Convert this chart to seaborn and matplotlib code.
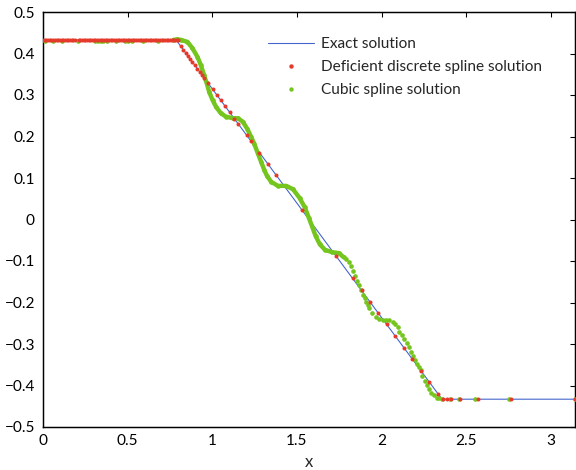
import matplotlib
matplotlib.use("Agg")
import matplotlib.pyplot as plt
import seaborn as sns
from matplotlib.lines import Line2D

# Exact solution: plateau, linear ramp, plateau
exact_x = [0.0, 0.7854, 2.3562, 3.1416]
exact_y = [0.4330, 0.4330, -0.4330, -0.4330]

# Deficient discrete spline solution: left plateau samples
red_flat_x = [0.00, 0.01, 0.02, 0.03, 0.04, 0.05, 0.06, 0.07, 0.08, 0.09,
              0.10, 0.11, 0.12, 0.13, 0.14, 0.15, 0.16, 0.17, 0.18, 0.19,
              0.21, 0.22, 0.23, 0.24, 0.25, 0.26, 0.27, 0.28, 0.29, 0.30,
              0.31, 0.32, 0.33, 0.34, 0.35, 0.36, 0.37, 0.38, 0.39, 0.40,
              0.41, 0.42, 0.43, 0.44, 0.45, 0.46, 0.47, 0.48, 0.49, 0.50,
              0.51, 0.52, 0.53, 0.54, 0.55, 0.56, 0.57, 0.58, 0.59, 0.60,
              0.61, 0.62, 0.63, 0.64, 0.65, 0.66, 0.67, 0.68, 0.69, 0.70,
              0.71, 0.72, 0.73, 0.74, 0.75, 0.76, 0.77, 0.78, 0.79, 0.80]
red_flat_y = [0.433] * 80

# Deficient discrete spline solution: ramp and right plateau samples
red_x = [0.813, 0.829, 0.843, 0.856, 0.868, 0.882, 0.896, 0.912, 0.926, 0.938,
         0.951, 0.975, 1.001, 1.027, 1.050, 1.076, 1.102, 1.129, 1.153, 1.203,
         1.228, 1.278, 1.328, 1.377, 1.529, 1.729, 1.828, 1.881, 1.931, 1.980,
         2.030, 2.079, 2.132, 2.180, 2.233, 2.282, 2.332, 2.360, 2.385, 2.410,
         2.465, 2.570, 2.766, 3.140]
red_y = [0.418, 0.409, 0.401, 0.394, 0.387, 0.380, 0.372, 0.363, 0.355, 0.349,
         0.342, 0.328, 0.314, 0.300, 0.287, 0.273, 0.258, 0.243, 0.230, 0.203,
         0.189, 0.161, 0.134, 0.107, 0.023, -0.087, -0.142, -0.171, -0.199, -0.226,
         -0.253, -0.280, -0.310, -0.336, -0.365, -0.392, -0.420, -0.433, -0.433, -0.433,
         -0.433, -0.433, -0.433, -0.433]

# Cubic spline solution: densely sampled stretch of the curve
green_band_x = [0.772, 0.793, 0.813, 0.853, 0.882, 0.912, 0.932, 0.951, 0.967, 0.981,
                1.001, 1.021, 1.050, 1.080, 1.120, 1.150, 1.179, 1.207, 1.228, 1.248,
                1.268, 1.288, 1.307, 1.323, 1.347, 1.387, 1.436, 1.476, 1.515, 1.545,
                1.571, 1.592, 1.610, 1.635, 1.665, 1.708, 1.748, 1.775]
green_band_y = [0.433, 0.434, 0.433, 0.428, 0.413, 0.392, 0.372, 0.348, 0.328, 0.308,
                0.288, 0.272, 0.256, 0.248, 0.244, 0.244, 0.236, 0.218, 0.200, 0.182,
                0.160, 0.139, 0.119, 0.105, 0.091, 0.081, 0.081, 0.073, 0.052, 0.030,
                0.003, -0.020, -0.040, -0.060, -0.073, -0.079, -0.081, -0.091]

# Cubic spline solution: isolated samples
green_dot_x = [0.012, 0.059, 0.113, 0.208, 0.309, 0.326, 0.344, 0.356, 0.380, 0.433,
               0.487, 0.504, 0.528, 0.588, 0.682,
               1.790, 1.805, 1.819, 1.832, 1.844, 1.856, 1.867, 1.879, 1.890, 1.899,
               1.908, 1.917, 1.926, 1.945, 1.965, 1.985, 2.005, 2.024, 2.044, 2.064,
               2.080, 2.096, 2.105, 2.120, 2.132, 2.148, 2.160, 2.172, 2.184, 2.195,
               2.207, 2.220, 2.230, 2.240, 2.254, 2.266, 2.280, 2.294, 2.310, 2.327,
               2.340, 2.357, 2.405, 2.455, 2.550, 2.750, 3.140]
green_dot_y = [0.431] * 15 + [
    -0.094, -0.102, -0.112, -0.123, -0.135, -0.147, -0.158, -0.170, -0.182, -0.190,
    -0.198, -0.206, -0.214, -0.226, -0.234, -0.239, -0.241, -0.242, -0.242, -0.246,
    -0.252, -0.260, -0.270, -0.278, -0.289, -0.298, -0.308, -0.319, -0.329, -0.339,
    -0.347, -0.355, -0.363, -0.376, -0.389, -0.398, -0.409, -0.417, -0.424, -0.429,
    -0.431, -0.433, -0.433, -0.433, -0.433, -0.433, -0.433]

x_ticks = [0, 0.5, 1, 1.5, 2, 2.5, 3]
x_tick_labels = ["0", "0.5", "1", "1.5", "2", "2.5", "3"]
y_ticks = [0.5, 0.4, 0.3, 0.2, 0.1, 0, -0.1, -0.2, -0.3, -0.4, -0.5]
y_tick_labels = ["0.5", "0.4", "0.3", "0.2", "0.1", "0", "\u22120.1", "\u22120.2",
                 "\u22120.3", "\u22120.4", "\u22120.5"]

sns.set_theme(style="white")
plt.rcParams["font.family"] = ["Lato", "DejaVu Sans"]

BLUE = "#3f62cc"
RED = "#e5392b"
GREEN = "#74c51d"

fig = plt.figure(figsize=(6.0, 470 / 96), dpi=96)
ax = fig.add_axes([43 / 576, 43 / 470, 532 / 576, 415 / 470])

sns.lineplot(x=exact_x, y=exact_y, ax=ax, color=BLUE, linewidth=0.8,
             estimator=None, sort=False, zorder=2)
sns.lineplot(x=green_band_x, y=green_band_y, ax=ax, color=GREEN, linewidth=3.3,
             estimator=None, sort=False, zorder=3, solid_capstyle="round")
sns.scatterplot(x=green_band_x + green_dot_x, y=green_band_y + green_dot_y, ax=ax,
                color=GREEN, s=12, linewidth=0, zorder=3)
sns.scatterplot(x=red_flat_x + red_x, y=red_flat_y + red_y, ax=ax, color=RED,
                s=9, linewidth=0, zorder=4)

ax.set_xlim(0, 3.1416)
ax.set_ylim(-0.5, 0.5)
ax.set_xticks(x_ticks)
ax.set_xticklabels(x_tick_labels)
ax.set_yticks(y_ticks)
ax.set_yticklabels(y_tick_labels)
ax.tick_params(direction="in", length=4, width=0.8, top=True, right=True,
               labelsize=11.5, colors="black", pad=6)
ax.tick_params(axis="x", labeltop=False, pad=5)
ax.tick_params(axis="y", labelright=False)
for s in ax.spines.values():
    s.set_color("black")
    s.set_linewidth(1.1)
ax.set_xlabel("x", fontsize=12.5, labelpad=5)
ax.set_ylabel("")

handles = [
    Line2D([], [], color=BLUE, linewidth=0.8),
    Line2D([], [], color=RED, marker="o", markersize=2.3, linestyle="none"),
    Line2D([], [], color=GREEN, marker="o", markersize=2.3, linestyle="none"),
]
labels = ["Exact solution", "Deficient discrete spline solution", "Cubic spline solution"]
ax.legend(handles, labels, loc="upper left", bbox_to_anchor=(0.422, 0.94),
          frameon=False, fontsize=11.5, handlelength=3.05, handletextpad=0.45,
          labelspacing=0.6, borderaxespad=0, borderpad=0)

fig.savefig("out.png", dpi=96)
